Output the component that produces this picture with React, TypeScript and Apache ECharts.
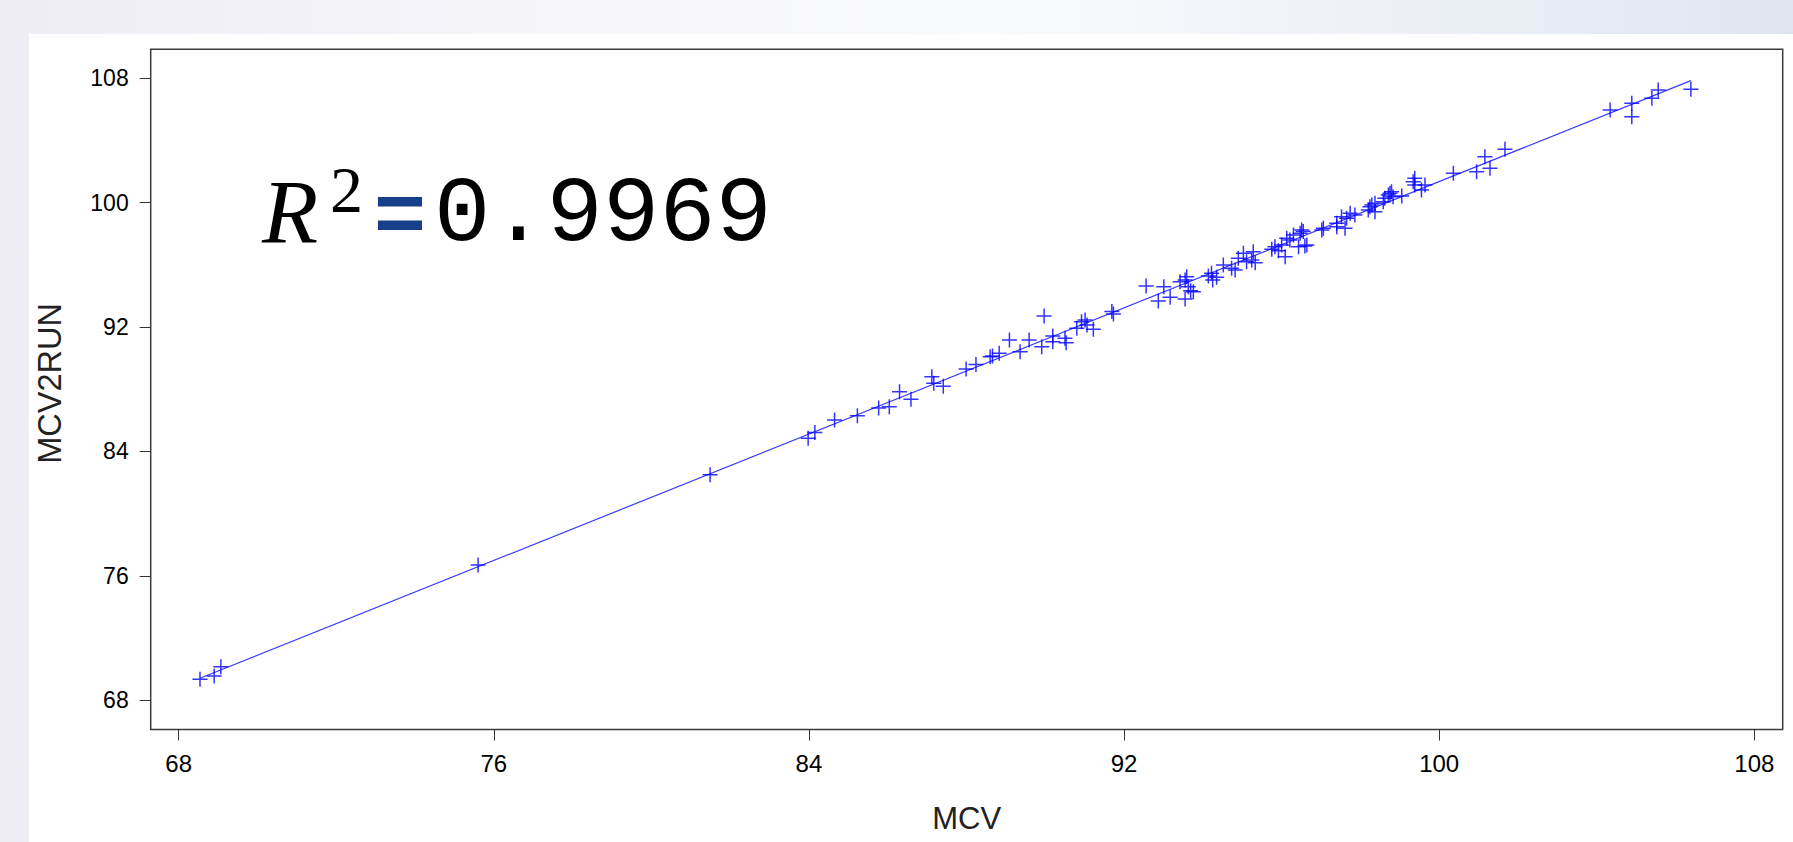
import React, { useEffect, useRef } from "react";
import * as echarts from "echarts";

// Measured data: MCV (x) vs MCV2RUN (y)
const mcv: number[] = [
  68.54, 68.90, 69.07, 75.60, 81.49, 83.98, 84.15, 84.65, 85.23, 85.77, 86.04, 86.30, 86.59,
  87.12, 87.17, 87.41, 87.99, 88.24, 88.60, 88.66, 88.83, 89.09, 89.36, 89.59, 89.91, 89.97,
  90.19, 90.19, 90.50, 90.53, 90.80, 90.92, 91.01, 91.06, 91.22, 91.69, 91.73,
  92.56, 92.87, 93.01, 93.17, 93.42, 93.55, 93.59, 93.63, 93.69, 93.55, 93.76,
  94.14, 94.22, 94.25, 94.35, 94.52, 94.73, 94.82, 94.90, 95.03, 95.11, 95.24, 95.28, 95.33,
  95.75, 95.83, 95.92, 96.00, 96.09, 96.13, 96.21, 96.30, 96.47, 96.51, 96.64, 96.43, 96.55, 96.59,
  97.02, 97.06, 97.40, 97.40, 97.52, 97.61, 97.65, 97.74, 97.86,
  98.20, 98.24, 98.29, 98.37, 98.37, 98.58, 98.62, 98.71, 98.75, 98.79, 98.83, 99.05,
  99.34, 99.38, 99.38, 99.55, 99.64, 100.36, 100.95, 101.16, 101.29, 101.67,
  104.34, 104.89, 104.89, 105.40, 105.56, 106.39,
];
const mcv2run: number[] = [
  69.35, 69.56, 70.16, 76.70, 82.51, 84.85, 85.22, 86.03, 86.30, 86.80, 86.88, 87.85, 87.36,
  88.81, 88.39, 88.20, 89.30, 89.60, 90.10, 90.14, 90.32, 91.17, 90.42, 91.17, 90.74, 92.71,
  91.43, 91.06, 91.28, 91.00, 91.92, 92.35, 92.46, 92.14, 91.86, 93.00, 92.84,
  94.64, 93.68, 94.60, 93.92, 94.92, 95.03, 95.24, 94.60, 94.34, 93.81, 94.28,
  95.29, 95.46, 95.03, 95.20, 96.00, 95.78, 95.67, 96.42, 96.75, 96.21, 96.31, 96.85, 96.14,
  97.00, 97.17, 96.91, 97.28, 96.53, 97.71, 97.60, 97.92, 98.03, 98.24, 97.28, 97.17, 98.14, 97.22,
  98.24, 98.35, 98.46, 98.68, 99.10, 98.35, 99.00, 99.32, 99.21,
  99.53, 99.74, 99.85, 99.96, 99.42, 100.06, 100.28, 100.50, 100.60, 100.71, 100.39, 100.43,
  101.35, 101.57, 101.14, 100.82, 101.14, 101.89, 101.99, 102.96, 102.21, 103.43,
  105.96, 106.39, 105.53, 106.71, 107.25, 107.29,
];
const tickValues: number[] = [68, 76, 84, 92, 100, 108];
const xName = "MCV";
const yName = "MCV2RUN";
const r2Value = "0.9969";

function fitLine(xs: number[], ys: number[]): number[][] {
  const n = xs.length;
  const mx = xs.reduce((a, b) => a + b, 0) / n;
  const my = ys.reduce((a, b) => a + b, 0) / n;
  let sxy = 0;
  let sxx = 0;
  for (let i = 0; i < n; i++) {
    sxy += (xs[i] - mx) * (ys[i] - my);
    sxx += (xs[i] - mx) * (xs[i] - mx);
  }
  const b = sxy / sxx;
  const a = my - b * mx;
  const x0 = Math.min(...xs);
  const x1 = Math.max(...xs);
  return [
    [x0, a + b * x0],
    [x1, a + b * x1],
  ];
}

export default function App() {
  const ref = useRef<HTMLDivElement>(null);
  useEffect(() => {
    if (!ref.current) return;
    const chart = echarts.init(ref.current, null, { renderer: "svg" });
    const points = mcv.map((x, i) => [x, mcv2run[i]]);
    const axisFont = { fontFamily: "Liberation Sans", fontSize: 24, color: "#000" };
    chart.setOption({
      animation: false,
      backgroundColor: "transparent",
      grid: {
        left: 150.7,
        top: 49.3,
        right: 10.3,
        bottom: 112.5,
        show: true,
        borderColor: "#3a3a3a",
        borderWidth: 1.5,
        backgroundColor: "#fff",
      },
      xAxis: {
        type: "value",
        min: 67.289,
        max: 108.721,
        name: xName,
        nameLocation: "middle",
        nameGap: 73,
        nameTextStyle: { fontFamily: "Liberation Sans", fontSize: 31, color: "#222" },
        axisLine: { show: false },
        splitLine: { show: false },
        axisTick: {
          show: true,
          inside: false,
          length: 11,
          customValues: tickValues,
          lineStyle: { color: "#333", width: 1 },
        },
        axisLabel: { ...axisFont, margin: 22, customValues: tickValues },
      },
      yAxis: {
        type: "value",
        min: 66.122,
        max: 109.865,
        name: yName,
        nameLocation: "middle",
        nameGap: 84,
        nameTextStyle: {
          fontFamily: "Liberation Sans",
          fontSize: 32.5,
          color: "#222",
          padding: [0, 0, 0, 12],
        },
        axisLine: { show: false },
        splitLine: { show: false },
        axisTick: {
          show: true,
          inside: false,
          length: 11,
          customValues: tickValues,
          lineStyle: { color: "#333", width: 1 },
        },
        axisLabel: { ...axisFont, fontSize: 23, margin: 22, customValues: tickValues },
      },
      series: [
        {
          type: "line",
          data: fitLine(mcv, mcv2run),
          showSymbol: false,
          symbol: "none",
          lineStyle: { color: "#3a3aff", width: 1.2 },
          silent: true,
          z: 2,
        },
        {
          type: "scatter",
          data: points,
          symbol: "path://M5,0V10M0,5H10",
          symbolSize: 15,
          itemStyle: { color: "transparent", borderColor: "#0000ff", borderWidth: 1.5 },
          z: 3,
        },
      ],
      graphic: [
        {
          type: "text",
          style: {
            text: "R",
            x: 262,
            y: 212,
            fontFamily: "Liberation Serif",
            fontStyle: "italic",
            fontSize: 92,
            fill: "#000",
            align: "left",
            verticalAlign: "middle",
          },
        },
        {
          type: "text",
          style: {
            text: "2",
            x: 330,
            y: 189,
            fontFamily: "Liberation Serif",
            fontSize: 66,
            fill: "#000",
            align: "left",
            verticalAlign: "middle",
          },
        },
        {
          type: "text",
          style: {
            text: "=",
            x: 400,
            y: 211,
            fontFamily: "Liberation Sans",
            fontWeight: "bold",
            fontSize: 88,
            fill: "#173f8a",
            align: "center",
            verticalAlign: "middle",
          },
        },
        {
          type: "text",
          x: 434,
          y: 216,
          scaleX: 1.02,
          style: {
            text: r2Value,
            x: 0,
            y: 0,
            fontFamily: "Liberation Mono",
            fontSize: 92,
            fill: "#000",
            stroke: "#fff",
            lineWidth: 5,
            strokeFirst: false,
            align: "left",
            verticalAlign: "middle",
          },
        },
      ],
    });
    return () => chart.dispose();
  }, []);

  return (
    <div
      style={{
        position: "fixed",
        left: 0,
        top: 0,
        width: 1793,
        height: 842,
        background:
          "linear-gradient(90deg, #eeedf5 0%, #f4f4f9 25%, #fafbfd 55%, #eceff6 80%, #dfe5ef 100%)",
        overflow: "hidden",
      }}
    >
      <div
        style={{
          position: "absolute",
          left: 29,
          top: 34,
          width: 1764,
          height: 808,
          background: "#fff",
        }}
      />
      <div ref={ref} style={{ position: "absolute", left: 0, top: 0, width: 1793, height: 842 }} />
    </div>
  );
}
